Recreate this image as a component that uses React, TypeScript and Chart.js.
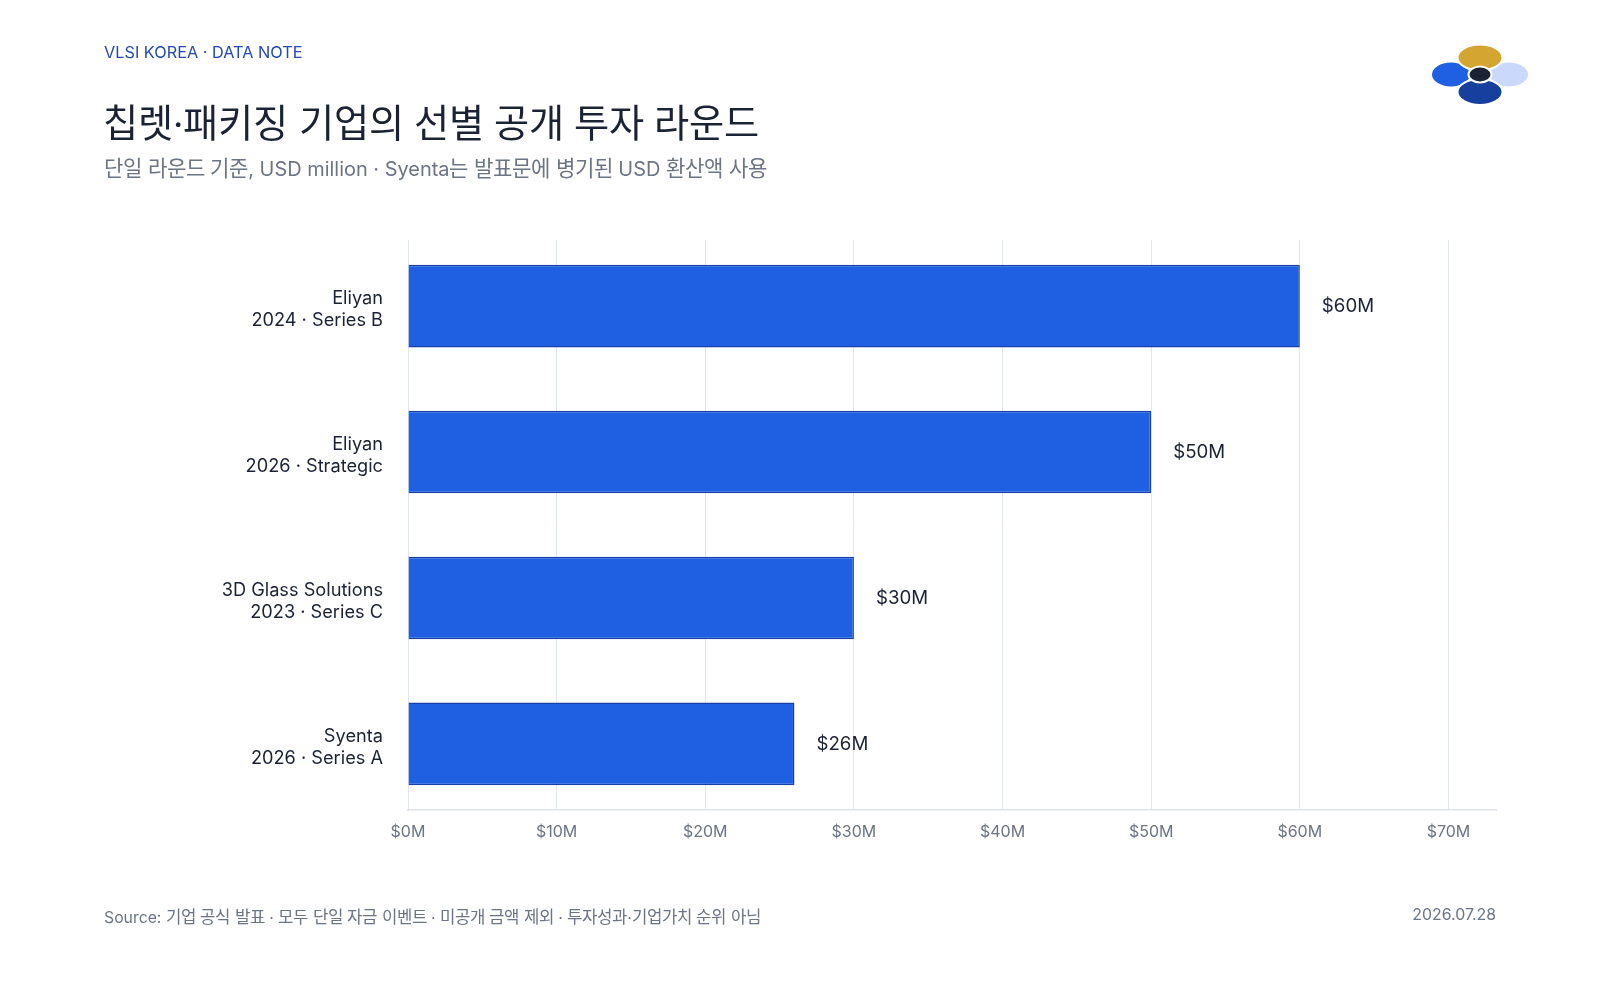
import React, { useEffect, useRef } from "react";
import { Chart, registerables } from "chart.js";

Chart.register(...registerables);

const categories: string[][] = [
  ["Eliyan", "2024 · Series B"],
  ["Eliyan", "2026 · Strategic"],
  ["3D Glass Solutions", "2023 · Series C"],
  ["Syenta", "2026 · Series A"],
];
const values: number[] = [60, 50, 30, 26];
const valueLabels: string[] = ["$60M", "$50M", "$30M", "$26M"];
const xTicks: number[] = [0, 10, 20, 30, 40, 50, 60, 70];
const categoryIndex: number[] = [0, 1, 2, 3];

const FONT = "Inter, KRH, 'Noto Sans CJK KR', sans-serif";
const DARK = "#1a2233";
const GRAY = "#6b7485";

const fontCss = `
@font-face {
  font-family: "KRH";
  src: local("Noto Sans CJK KR Regular"), local("NotoSansCJKkr-Regular"), local("Noto Sans CJK KR");
  unicode-range: U+AC00-D7A3, U+1100-11FF, U+3130-318F;
  size-adjust: 106%;
}
`;

const valueLabelPlugin = {
  id: "valueLabels",
  afterDatasetsDraw(chart: any) {
    const meta = chart.getDatasetMeta(0);
    const ctx = chart.ctx;
    ctx.save();
    ctx.font = `18.7px ${FONT}`;
    ctx.fillStyle = DARK;
    ctx.textAlign = "left";
    ctx.textBaseline = "middle";
    meta.data.forEach((bar: any, i: number) => {
      ctx.fillText(valueLabels[i], bar.x + 22, bar.y);
    });
    ctx.restore();
  },
};

export default function App() {
  const ref = useRef<HTMLCanvasElement | null>(null);
  useEffect(() => {
    if (!ref.current) return;
    const chart = new Chart(ref.current, {
      type: "bar",
      data: {
        datasets: [
          {
            data: values.map((v, i) => ({ x: v, y: categoryIndex[i] })),
            backgroundColor: "#1f5fe2",
            borderColor: "#1a3fa8",
            borderWidth: 1.5,
            barPercentage: 0.566,
            categoryPercentage: 1,
          },
        ],
      },
      plugins: [valueLabelPlugin],
      options: {
        indexAxis: "y",
        animation: false,
        responsive: false,
        maintainAspectRatio: false,
        layout: { padding: { left: 0, top: 240, right: 104, bottom: 0 } },
        plugins: { legend: { display: false }, tooltip: { enabled: false } },
        scales: {
          x: {
            type: "linear",
            min: 0,
            max: 73.2,
            afterBuildTicks: (scale: any) => {
              scale.ticks = xTicks.map((v) => ({ value: v }));
            },
            afterFit: (scale: any) => {
              scale.height = 190;
            },
            grid: { color: "#e1e6ef", lineWidth: 1, drawTicks: false },
            border: { display: true, color: "#dfe4ec", width: 1.5 },
            ticks: {
              padding: 13,
              color: GRAY,
              font: { family: FONT, size: 16 },
              callback: (v: any) => `$${v}M`,
              maxRotation: 0,
            },
          },
          y: {
            type: "linear",
            reverse: true,
            offset: false,
            min: -0.453,
            max: 3.453,
            afterBuildTicks: (scale: any) => {
              scale.ticks = categoryIndex.map((v) => ({ value: v }));
            },
            afterFit: (scale: any) => {
              scale.width = 408;
            },
            grid: { display: false, drawTicks: false, offset: false },
            border: { display: true, color: "#dfe4ec", width: 1 },
            ticks: {
              padding: 25,
              labelOffset: 3.5,
              color: DARK,
              font: { family: FONT, size: 18.2, lineHeight: 1.24 },
              callback: (v: any) => categories[Math.round(v)],
            },
          },
        },
      },
    });
    return () => chart.destroy();
  }, []);

  return (
    <div
      style={{
        position: "fixed",
        left: 0,
        top: 0,
        width: 1600,
        height: 1000,
        background: "#ffffff",
        fontFamily: FONT,
        overflow: "hidden",
      }}
    >
      <style>{fontCss}</style>
      <canvas
        ref={ref}
        width={1600}
        height={1000}
        style={{ position: "absolute", left: 0, top: 0, width: 1600, height: 1000 }}
      />
      <div style={{ position: "absolute", left: 104, top: 42, fontSize: 16.3, color: "#2348b8", whiteSpace: "nowrap" }}>
        VLSI KOREA · DATA NOTE
      </div>
      <div style={{ position: "absolute", left: 103, top: 93, fontSize: 36.1, color: DARK, whiteSpace: "nowrap" }}>
        칩렛·패키징 기업의 선별 공개 투자 라운드
      </div>
      <div style={{ position: "absolute", left: 104, top: 151, fontSize: 19.95, color: GRAY, whiteSpace: "nowrap" }}>
        단일 라운드 기준, USD million · Syenta는 발표문에 병기된 USD 환산액 사용
      </div>
      <div style={{ position: "absolute", left: 104, top: 904, fontSize: 15.8, color: GRAY, whiteSpace: "nowrap" }}>
        Source: 기업 공식 발표 · 모두 단일 자금 이벤트 · 미공개 금액 제외 · 투자성과·기업가치 순위 아님
      </div>
      <div style={{ position: "absolute", right: 104, top: 905, fontSize: 15.9, color: GRAY, whiteSpace: "nowrap" }}>
        2026.07.28
      </div>
      <svg style={{ position: "absolute", left: 1420, top: 36 }} width={120} height={80} viewBox="1420 36 120 80">
        <ellipse cx={1509} cy={74.5} rx={20} ry={13} fill="#c9d8fb" stroke="#fff" strokeWidth={2} />
        <ellipse cx={1451} cy={74.5} rx={20} ry={13} fill="#1f5fe2" stroke="#fff" strokeWidth={2} />
        <ellipse cx={1480} cy={57.5} rx={22.5} ry={13} fill="#d4a531" stroke="#fff" strokeWidth={2} />
        <ellipse cx={1480} cy={92} rx={22.5} ry={13} fill="#163f9e" stroke="#fff" strokeWidth={2} />
        <ellipse cx={1480} cy={74.5} rx={11.5} ry={8} fill="#1a2233" stroke="#fff" strokeWidth={2} />
      </svg>
    </div>
  );
}
